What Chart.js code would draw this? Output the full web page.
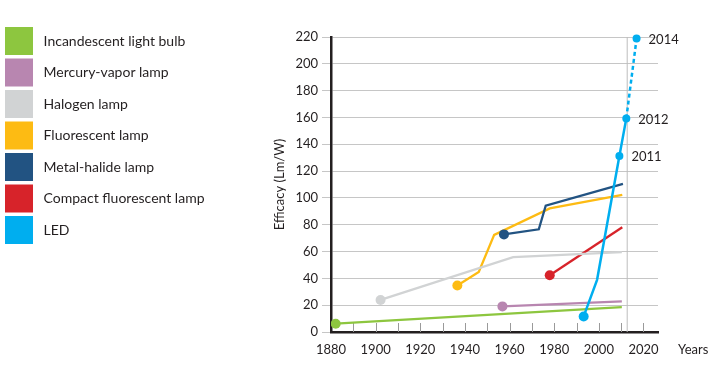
<!DOCTYPE html>
<html>
<head>
<meta charset="utf-8">
<script src="https://cdn.jsdelivr.net/npm/chart.js@4.4.1/dist/chart.umd.min.js"></script>
<style>
  html, body { margin: 0; padding: 0; background: #fff; }
  #wrap { width: 720px; height: 372px; }
</style>
</head>
<body>
<div id="wrap"><canvas id="efficacyChart" width="720" height="372"></canvas></div>
<script>
// values (year, lumen per watt)
const seriesNames = ['Incandescent light bulb', 'Mercury-vapor lamp', 'Halogen lamp', 'Fluorescent lamp',
    'Metal-halide lamp', 'Compact fluorescent lamp', 'LED'];
const seriesColors = ['#8dc63f', '#b886b0', '#d1d3d4', '#fdbb13', '#225382', '#d7232a', '#00aeef'];

const incandescentYears = [1882.1, 2010.3];
const incandescentValues = [6.2, 18.6];

const mercuryYears = [1956.8, 2010.3];
const mercuryValues = [19.1, 22.8];

const halogenYears = [1902.2, 1961.6, 2010.3];
const halogenValues = [23.9, 55.9, 59.5];

const fluorescentYears = [1936.6, 1946.2, 1953.1, 1978.0, 2010.5];
const fluorescentValues = [34.7, 44.7, 72.4, 92.2, 102.2];

const metalHalideYears = [1957.5, 1973.1, 1976.2, 2010.8];
const metalHalideValues = [72.8, 76.6, 94.2, 110.4];

const cflYears = [1978.0, 2010.5];
const cflValues = [42.3, 78.1];

const ledYears = [1993.2, 1999.2, 2009.2, 2012.3, 2016.9];
const ledValues = [11.6, 38.9, 131.2, 159.3, 218.8];
const ledLabels = ['', '', '2011', '2012', '2014'];

const markerYear = 2012.7; // thin vertical line

const xTickYears = [1880, 1900, 1920, 1940, 1960, 1980, 2000, 2020];
const yTickValues = [0, 20, 40, 60, 80, 100, 120, 140, 160, 180, 200, 220];

Chart.defaults.font.family = 'Lato';
Chart.defaults.font.size = 13;
Chart.defaults.color = '#231f20';

function toPoints(xs, ys) {
    return xs.map((x, i) => ({ x: x, y: ys[i] }));
}

function series(idx, xs, ys, extra) {
    return Object.assign({
        label: seriesNames[idx],
        data: toPoints(xs, ys),
        borderColor: seriesColors[idx],
        backgroundColor: seriesColors[idx],
        pointBackgroundColor: seriesColors[idx],
        borderWidth: 2.3,
        pointBorderWidth: 0,
        pointRadius: ctx => ctx.dataIndex === 0 ? 5 : 0,
        tension: 0
    }, extra || {});
}

const datasets = [
    series(0, incandescentYears, incandescentValues),
    series(1, mercuryYears, mercuryValues),
    series(2, halogenYears, halogenValues),
    series(3, fluorescentYears, fluorescentValues),
    series(4, metalHalideYears, metalHalideValues, { order: -1 }),
    series(5, cflYears, cflValues),
    series(6, ledYears, ledValues, {
        order: -2,
        clip: false,
        borderWidth: 2.5,
        pointRadius: [5, 0, 4, 4, 4],
        segment: { borderDash: ctx => ctx.p0DataIndex === 3 ? [4, 3] : undefined }
    }),
    {
        label: 'marker',
        data: [{ x: markerYear, y: 0 }, { x: markerYear, y: 220 }],
        borderColor: '#bdbdbd',
        borderWidth: 1,
        pointRadius: 0,
        order: 10
    }
];

const xTickPadding = 10;

// minor ticks, "Years" and the LED year labels
const extrasPlugin = {
    id: 'extras',
    beforeDatasetsDraw(chart) {
        const { ctx, chartArea } = chart;
        const x = chart.scales.x;
        ctx.save();
        ctx.strokeStyle = '#9a9a9a';
        ctx.lineWidth = 1;
        for (let yr = 1890; yr <= 2020; yr += 10) {
            const px = Math.round(x.getPixelForValue(yr)) + 0.5;
            ctx.beginPath();
            ctx.moveTo(px, chartArea.bottom - 9);
            ctx.lineTo(px, chartArea.bottom);
            ctx.stroke();
        }
        ctx.restore();
    },
    afterDatasetsDraw(chart) {
        const { ctx } = chart;
        const x = chart.scales.x;
        ctx.save();
        ctx.fillStyle = '#231f20';
        ctx.font = '13px Lato';
        ctx.textAlign = 'left';
        ctx.textBaseline = 'middle';
        ctx.fillText('Years', x.right + 20, x.top + xTickPadding + 13 * 1.2 / 2);
        const meta = chart.getDatasetMeta(6);
        meta.data.forEach((pt, i) => {
            if (ledLabels[i]) ctx.fillText(ledLabels[i], pt.x + 12, pt.y + 1);
        });
        ctx.restore();
    }
};

const defaultLabels = Chart.defaults.plugins.legend.labels.generateLabels;

new Chart(document.getElementById('efficacyChart'), {
    type: 'line',
    data: { datasets: datasets },
    plugins: [extrasPlugin],
    options: {
        responsive: false,
        animation: false,
        devicePixelRatio: 1,
        layout: { padding: { left: 1.5, top: 23.5, right: 62, bottom: 4.4 } },
        plugins: {
            tooltip: { enabled: false },
            title: { display: true, text: '', fullSize: false, padding: 0, font: { size: 13.5, lineHeight: 1 } },
            legend: {
                position: 'left',
                align: 'start',
                maxWidth: 400,
                labels: {
                    boxWidth: 28,
                    boxHeight: 28,
                    padding: 3.5,
                    color: '#231f20',
                    font: { size: 14 },
                    generateLabels: chart => defaultLabels(chart)
                        .filter(item => item.datasetIndex < 7)
                        .map(item => Object.assign(item, { lineWidth: 0, text: ' ' + item.text })),
                    sort: (a, b) => a.datasetIndex - b.datasetIndex
                }
            }
        },
        scales: {
            x: {
                type: 'linear',
                min: 1880,
                max: 2026.5,
                afterBuildTicks: s => { s.ticks = xTickYears.map(v => ({ value: v })); },
                ticks: { padding: xTickPadding, callback: v => String(v), maxRotation: 0 },
                grid: { display: true, drawOnChartArea: false, drawTicks: false },
                border: { color: '#231f20', width: 2.5 }
            },
            y: {
                min: 0,
                max: 220,
                afterBuildTicks: s => { s.ticks = yTickValues.map(v => ({ value: v })); },
                afterFit: s => { s.width = 331 - 1.5 - s.chart.legend.width; },
                ticks: { padding: 4 },
                grid: { color: '#c6c6c6', lineWidth: 1, tickLength: 9 },
                border: { color: '#231f20', width: 2.5 },
                title: { display: true, text: 'Efficacy (Lm/W)', font: { size: 13 }, padding: { top: 58, bottom: 0 } }
            }
        }
    }
});
</script>
</body>
</html>
